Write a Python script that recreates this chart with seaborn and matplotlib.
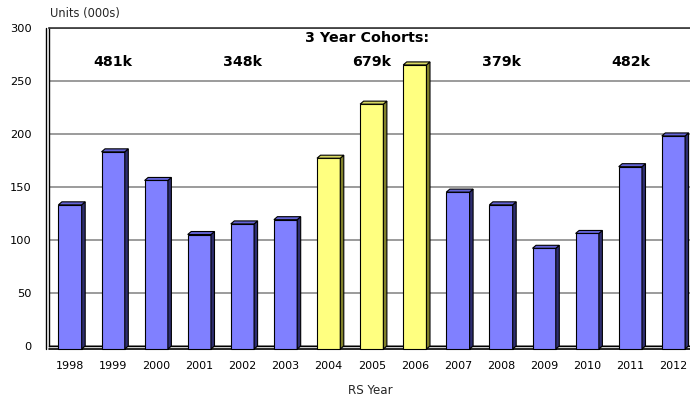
import matplotlib
matplotlib.use("Agg")
import matplotlib.pyplot as plt
import numpy as np
import pandas as pd
import seaborn as sns
from matplotlib.patches import Polygon
from matplotlib.lines import Line2D

# Annual units (thousands) by RS year
years = ["1998", "1999", "2000", "2001", "2002", "2003", "2004", "2005",
         "2006", "2007", "2008", "2009", "2010", "2011", "2012"]
units = [136, 186, 159, 108, 118, 122, 180, 231, 268, 148, 136, 95, 109, 172, 201]
# Three-year cohort membership; cohort 2 is the highlighted one
cohort = [0, 0, 0, 1, 1, 1, 2, 2, 2, 3, 3, 3, 4, 4, 4]
highlight_cohort = 2
y_ticks = [0, 50, 100, 150, 200, 250, 300]

sns.set_theme(style="white")
plt.rcParams["font.family"] = ["DejaVu Sans"]

df = pd.DataFrame({"year": years, "units": units, "cohort": cohort})
df["group"] = np.where(df["cohort"] == highlight_cohort, "hi", "base")

face = {"base": "#8080FF", "hi": "#FFFF80"}
side = {"base": "#2E2E70", "hi": "#80802A"}
top = {"base": "#6464D8", "hi": "#D8D860"}

W, H = 690, 398
fig = plt.figure(figsize=(W / 100, H / 100), dpi=100)
step = 43.1
left_px, bottom_px, top_px = 48.5, 52, 28
ax = fig.add_axes([left_px / W, bottom_px / H, 15 * step / W, (H - top_px - bottom_px) / H])

sns.barplot(data=df, x="year", y="units", hue="group", palette=face, dodge=False,
            width=0.54, legend=False, edgecolor="black", linewidth=0.8,
            saturation=1, ax=ax, order=years)

ax.set_xlim(-0.5, 14.5)
ax.set_ylim(0, 300)

# depth of the pseudo-3D extrusion, in data units
px_y = 300 / (H - top_px - bottom_px)
dyd = 3.0 * px_y
dxd = 3.5 / step

for p in ax.patches:
    x, w, h = p.get_x(), p.get_width(), p.get_height()
    grp = "hi" if p.get_facecolor()[2] < 0.7 else "base"
    p.set_y(-dyd)
    p.set_clip_on(False)
    p.set_zorder(3)
    s = Polygon([(x + w, -dyd), (x + w, h - dyd), (x + w + dxd, h), (x + w + dxd, 0)],
                closed=True, facecolor=side[grp], edgecolor="black", lw=0.8,
                zorder=3, clip_on=False)
    t = Polygon([(x, h - dyd), (x + w, h - dyd), (x + w + dxd, h), (x + dxd, h)],
                closed=True, facecolor=top[grp], edgecolor="black", lw=0.8,
                zorder=3, clip_on=False)
    ax.add_patch(s)
    ax.add_patch(t)

# back wall grid and frame
ax.set_axisbelow(True)
ax.yaxis.grid(True, color="#808080", lw=1.1)
ax.xaxis.grid(False)
ax.spines["right"].set_visible(False)
ax.spines["top"].set_color("#333333")
ax.spines["top"].set_linewidth(1.2)
ax.spines["bottom"].set_color("black")
ax.spines["bottom"].set_linewidth(1.0)
ax.spines["left"].set_color("black")
ax.spines["left"].set_linewidth(1.0)

# floor front edge and left wall front edge
ax.axhline(-dyd, color="black", lw=1.2, clip_on=False, zorder=2)
ax.add_line(Line2D([-0.5 - 2 / step, -0.5 - 2 / step], [-dyd, 300], color="black",
                   lw=1.0, clip_on=False))

ax.set_yticks(y_ticks)
ax.set_yticklabels([str(v) for v in y_ticks])
ax.tick_params(axis="y", direction="in", length=6, width=1, color="#404040",
               pad=12, labelsize=8.2, labelcolor="black")
ax.tick_params(axis="x", length=0, pad=11, labelsize=8.0, labelcolor="black")
ax.set_xlabel("")
ax.set_ylabel("")

# cohort totals over the middle year of each cohort
for c in sorted(set(cohort)):
    idx = [i for i, k in enumerate(cohort) if k == c]
    total = sum(units[i] for i in idx)
    ax.text(idx[len(idx) // 2], 268, f"{total}k", ha="center", va="center",
            fontsize=10.2, fontweight="bold", color="black")

ax.text(6.89, 290.5, "3 Year Cohorts:", ha="center", va="center",
        fontsize=10.3, fontweight="bold", color="black")

fig.text(50 / W, 1 - 14 / H, "Units (000s)", ha="left", va="center", fontsize=8.3)
fig.text(370 / W, 1 - 391 / H, "RS Year", ha="center", va="center", fontsize=8.6)

fig.savefig("out.png", dpi=100)
